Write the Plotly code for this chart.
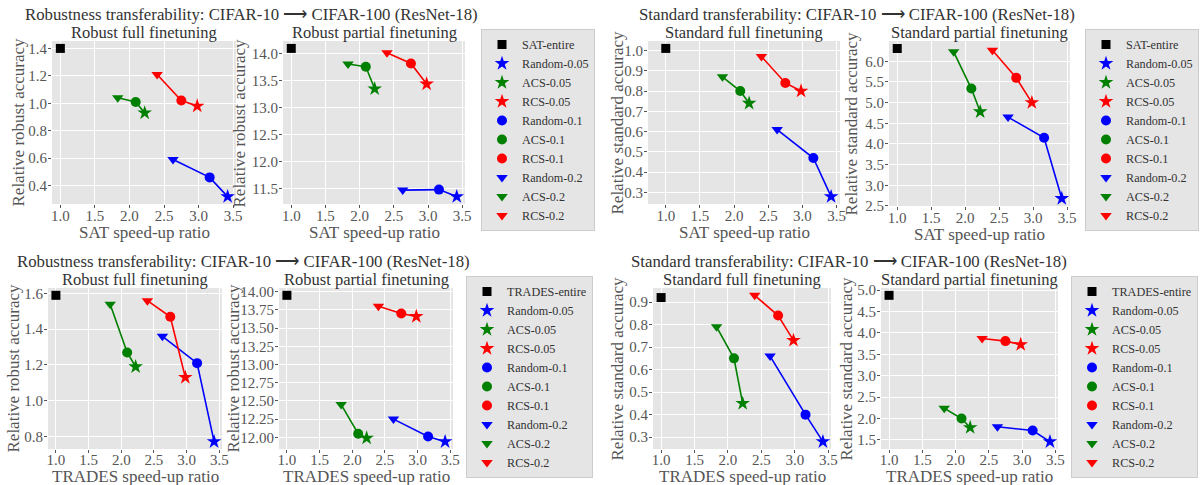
import plotly.graph_objects as go

# ---------------- data ----------------
fractions = ["0.05", "0.1", "0.2"]
methods = ["Random", "ACS", "RCS"]

# speed-up ratios (x) for fractions 0.05, 0.1, 0.2
entire_speedup = 1.0
speedup_random = [3.42, 3.16, 2.63]
speedup_acs = [2.22, 2.09, 1.83]
speedup_rcs = [2.98, 2.75, 2.40]

# SAT pre-training, relative accuracies (y) for fractions 0.05, 0.1, 0.2
sat_robust_full_entire = 1.40
sat_robust_full_random = [0.32, 0.46, 0.59]
sat_robust_full_acs = [0.93, 1.01, 1.04]
sat_robust_full_rcs = [0.98, 1.02, 1.21]

sat_robust_partial_entire = 14.10
sat_robust_partial_random = [11.35, 11.48, 11.47]
sat_robust_partial_acs = [13.35, 13.76, 13.81]
sat_robust_partial_rcs = [13.44, 13.82, 14.02]

sat_standard_full_entire = 1.01
sat_standard_full_random = [0.28, 0.47, 0.61]
sat_standard_full_acs = [0.74, 0.80, 0.87]
sat_standard_full_rcs = [0.80, 0.84, 0.97]

sat_standard_partial_entire = 6.31
sat_standard_partial_random = [2.68, 4.15, 4.65]
sat_standard_partial_acs = [4.78, 5.34, 6.23]
sat_standard_partial_rcs = [5.00, 5.60, 6.27]

# TRADES pre-training
trades_robust_full_entire = 1.59
trades_robust_full_random = [0.77, 1.21, 1.36]
trades_robust_full_acs = [1.19, 1.27, 1.54]
trades_robust_full_rcs = [1.13, 1.47, 1.56]

trades_robust_partial_entire = 13.95
trades_robust_partial_random = [11.94, 12.01, 12.25]
trades_robust_partial_acs = [11.99, 12.05, 12.45]
trades_robust_partial_rcs = [13.66, 13.70, 13.80]

trades_standard_full_entire = 0.92
trades_standard_full_random = [0.28, 0.40, 0.66]
trades_standard_full_acs = [0.45, 0.65, 0.79]
trades_standard_full_rcs = [0.73, 0.84, 0.93]

trades_standard_partial_entire = 4.88
trades_standard_partial_random = [1.46, 1.72, 1.81]
trades_standard_partial_acs = [1.79, 2.00, 2.24]
trades_standard_partial_rcs = [3.73, 3.81, 3.87]

x_ticks = [1.0, 1.5, 2.0, 2.5, 3.0, 3.5]

# ---------------- style ----------------
W, H = 1203, 485
FONT = "Liberation Serif"
TXT = "#333333"
TICKC = "#555555"
BG = "#E5E5E5"
colors = {"Random": "#0000FF", "ACS": "#008000", "RCS": "#FF0000"}
symbols = {"0.05": "star", "0.1": "circle", "0.2": "triangle-down"}
msize = {"0.05": 11, "0.1": 10, "0.2": 10}


def hx(px):
    return px / W


def vy(px):
    return 1 - px / H


speedups = {"Random": speedup_random, "ACS": speedup_acs, "RCS": speedup_rcs}

panels = [
    dict(pre="SAT", entire=sat_robust_full_entire,
         vals={"Random": sat_robust_full_random, "ACS": sat_robust_full_acs, "RCS": sat_robust_full_rcs},
         title="Robust full finetuning", ylabel="Relative robust accuracy",
         box=(52, 236, 41, 204), ylab_x=18, dtick=0.2, tick0=0.4, fmt=".1f", legend="legend", xr=None),
    dict(pre="SAT", entire=sat_robust_partial_entire,
         vals={"Random": sat_robust_partial_random, "ACS": sat_robust_partial_acs, "RCS": sat_robust_partial_rcs},
         title="Robust partial finetuning", ylabel="Relative robust accuracy",
         box=(283, 465, 41, 204), ylab_x=239, dtick=0.5, tick0=11.5, fmt=".1f", legend="legend", xr=None),
    dict(pre="SAT", entire=sat_standard_full_entire,
         vals={"Random": sat_standard_full_random, "ACS": sat_standard_full_acs, "RCS": sat_standard_full_rcs},
         title="Standard full finetuning", ylabel="Relative standard accuracy",
         box=(648, 840, 41, 204), ylab_x=617, dtick=0.1, tick0=0.3, fmt=".1f", legend="legend2", xr=[0.74, 3.55]),
    dict(pre="SAT", entire=sat_standard_partial_entire,
         vals={"Random": sat_standard_partial_random, "ACS": sat_standard_partial_acs, "RCS": sat_standard_partial_rcs},
         title="Standard partial finetuning", ylabel="Relative standard accuracy",
         box=(889, 1070, 41, 206), ylab_x=851, dtick=0.5, tick0=2.5, fmt=".1f", legend="legend2", xr=None),
    dict(pre="TRADES", entire=trades_robust_full_entire,
         vals={"Random": trades_robust_full_random, "ACS": trades_robust_full_acs, "RCS": trades_robust_full_rcs},
         title="Robust full finetuning", ylabel="Relative robust accuracy",
         box=(48, 222, 288, 449), ylab_x=13, dtick=0.2, tick0=0.8, fmt=".1f", legend="legend3", xr=None),
    dict(pre="TRADES", entire=trades_robust_partial_entire,
         vals={"Random": trades_robust_partial_random, "ACS": trades_robust_partial_acs, "RCS": trades_robust_partial_rcs},
         title="Robust partial finetuning", ylabel="Relative robust accuracy",
         box=(279, 453, 288, 449), ylab_x=233, dtick=0.25, tick0=12.0, fmt=".2f", legend="legend3", xr=None),
    dict(pre="TRADES", entire=trades_standard_full_entire,
         vals={"Random": trades_standard_full_random, "ACS": trades_standard_full_acs, "RCS": trades_standard_full_rcs},
         title="Standard full finetuning", ylabel="Relative standard accuracy",
         box=(653, 831, 288, 449), ylab_x=617, dtick=0.1, tick0=0.3, fmt=".1f", legend="legend4", xr=None),
    dict(pre="TRADES", entire=trades_standard_partial_entire,
         vals={"Random": trades_standard_partial_random, "ACS": trades_standard_partial_acs, "RCS": trades_standard_partial_rcs},
         title="Standard partial finetuning", ylabel="Relative standard accuracy",
         box=(881, 1058, 288, 449), ylab_x=846, dtick=0.5, tick0=1.5, fmt=".1f", legend="legend4", xr=None),
]

fig = go.Figure()
layout = dict(
    width=W, height=H, margin=dict(l=0, r=0, t=0, b=0, autoexpand=False),
    paper_bgcolor="white", plot_bgcolor=BG, showlegend=True,
    font=dict(family=FONT, size=15, color=TXT),
)
annotations = []
legend_done = set()


def padded(lo, hi):
    p = (hi - lo) * 0.05
    return [lo - p, hi + p]


for i, pn in enumerate(panels, start=1):
    xa = "x" if i == 1 else f"x{i}"
    ya = "y" if i == 1 else f"y{i}"
    show_leg = pn["legend"] not in legend_done
    legend_done.add(pn["legend"])

    # connecting lines (0.2 -> 0.1 -> 0.05)
    for m in methods:
        fig.add_trace(go.Scatter(
            x=speedups[m][::-1], y=pn["vals"][m][::-1], mode="lines",
            line=dict(color=colors[m], width=1.6), xaxis=xa, yaxis=ya,
            showlegend=False, hoverinfo="skip", legend=pn["legend"]))

    # entire
    fig.add_trace(go.Scatter(
        x=[entire_speedup], y=[pn["entire"]], mode="markers",
        marker=dict(symbol="square", size=9, color="black"),
        name=f"{pn['pre']}-entire", xaxis=xa, yaxis=ya,
        showlegend=show_leg, legend=pn["legend"]))
    for fi, fr in enumerate(fractions):
        for m in methods:
            fig.add_trace(go.Scatter(
                x=[speedups[m][fi]], y=[pn["vals"][m][fi]], mode="markers",
                marker=dict(symbol=symbols[fr], size=msize[fr], color=colors[m], line=dict(width=0)),
                name=f"{m}-{fr}", xaxis=xa, yaxis=ya,
                showlegend=show_leg, legend=pn["legend"]))

    allx = [entire_speedup] + [v for m in methods for v in speedups[m]]
    ally = [pn["entire"]] + [v for m in methods for v in pn["vals"][m]]
    xr = pn["xr"] if pn["xr"] else padded(min(allx), max(allx))
    yr = padded(min(ally), max(ally))

    l, r, t, b = pn["box"]
    top_row = t < 100
    axis_common = dict(
        showgrid=True, gridcolor="white", gridwidth=1.1, zeroline=False,
        showline=False, ticks="outside", ticklen=3, tickcolor=TICKC,
        tickfont=dict(family=FONT, size=15, color=TICKC),
    )
    layout["xaxis" if i == 1 else f"xaxis{i}"] = dict(
        axis_common, domain=[hx(l), hx(r)], range=xr, anchor=ya,
        tickvals=x_ticks, tickformat=".1f", ticklabelstandoff=-5 if top_row else -6)
    layout["yaxis" if i == 1 else f"yaxis{i}"] = dict(
        axis_common, domain=[vy(b), vy(t)], range=yr, anchor=xa,
        tick0=pn["tick0"], dtick=pn["dtick"], tickformat=pn["fmt"], ticklabelstandoff=-2)

    # subplot title
    annotations.append(dict(
        text=pn["title"], x=hx((l + r) / 2), y=vy(t - 8.5), xref="paper", yref="paper",
        xanchor="center", yanchor="middle", showarrow=False,
        font=dict(family=FONT, size=16.5, color=TXT)))
    # x label
    annotations.append(dict(
        text=f"{pn['pre']} speed-up ratio", x=hx((l + r) / 2), y=vy(b + 28 if top_row else b + 27),
        xref="paper", yref="paper", xanchor="center", yanchor="middle", showarrow=False,
        font=dict(family=FONT, size=17, color=TICKC)))
    # y label
    annotations.append(dict(
        text=pn["ylabel"], x=hx(pn["ylab_x"]), y=vy((t + b) / 2), xref="paper", yref="paper",
        xanchor="center", yanchor="middle", showarrow=False, textangle=-90,
        font=dict(family=FONT, size=17, color=TICKC)))

# group titles
group_titles = [
    ("Robustness transferability: CIFAR-10 \u27f6 CIFAR-100 (ResNet-18)", 251, 14),
    ("Standard transferability: CIFAR-10 \u27f6 CIFAR-100 (ResNet-18)", 857, 14),
    ("Robustness transferability: CIFAR-10 \u27f6 CIFAR-100 (ResNet-18)", 243, 261.5),
    ("Standard transferability: CIFAR-10 \u27f6 CIFAR-100 (ResNet-18)", 849, 261.5),
]
for txt, cx, cy in group_titles:
    annotations.append(dict(
        text=txt, x=hx(cx), y=vy(cy), xref="paper", yref="paper",
        xanchor="center", yanchor="middle", showarrow=False,
        font=dict(family=FONT, size=16.8, color=TXT)))

layout["annotations"] = annotations

leg_common = dict(
    bgcolor=BG, bordercolor="#CCCCCC", borderwidth=1,
    font=dict(family=FONT, size=12.2, color=TXT),
    xanchor="left", yanchor="top", itemsizing="trace", tracegroupgap=0,
)
layout["legend"] = dict(leg_common, x=hx(481), y=vy(29))
layout["legend2"] = dict(leg_common, x=hx(1085), y=vy(29))
layout["legend3"] = dict(leg_common, x=hx(466), y=vy(276))
layout["legend4"] = dict(leg_common, x=hx(1071), y=vy(276))

fig.update_layout(**layout)
fig.write_html("out.html")
